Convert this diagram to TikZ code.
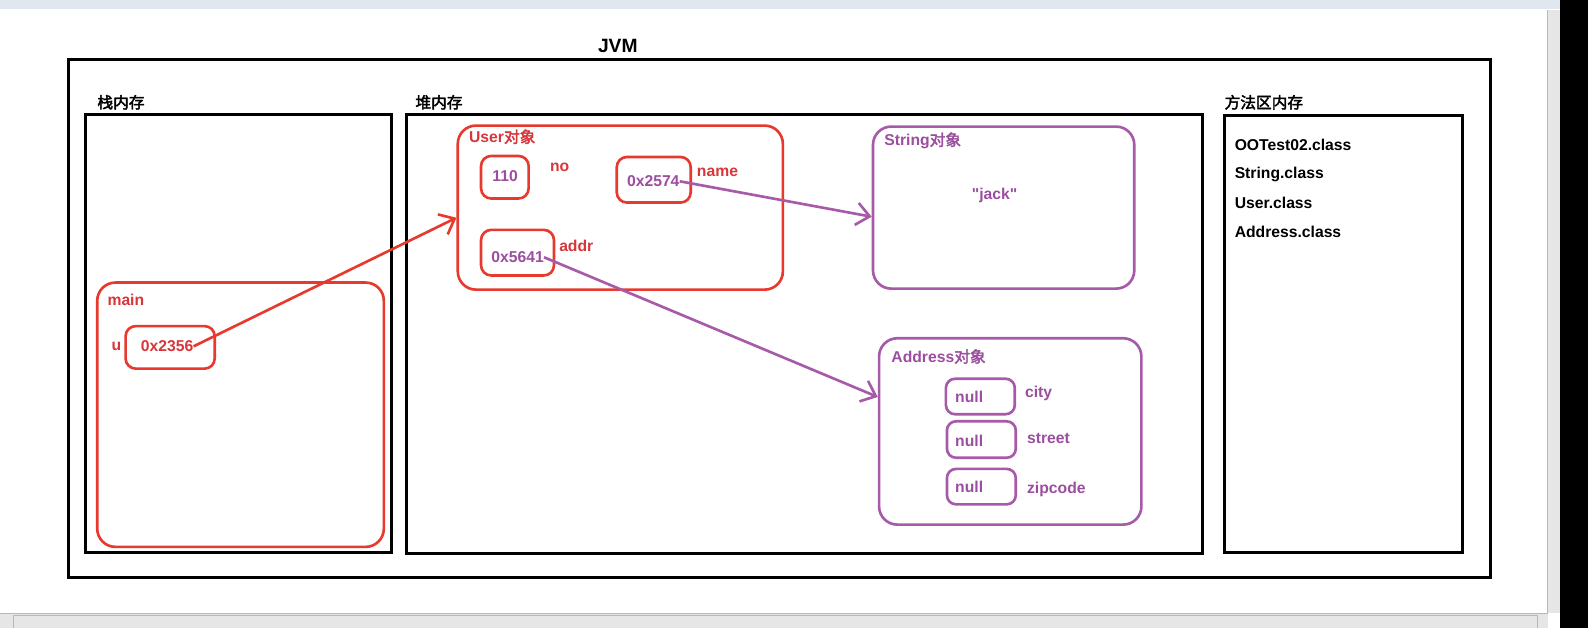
\documentclass[tikz,border=0pt]{standalone}
\usepackage{fontspec}
\setmainfont{Liberation Sans}
\newfontfamily\qfont{Liberation Sans}[Ligatures=TeXOff]
\newfontfamily\cjk{Noto Sans CJK SC}[AutoFakeBold=2.5]
\usetikzlibrary{arrows.meta}
\definecolor{rl}{HTML}{E8392F}
\definecolor{rt}{HTML}{D8363A}
\definecolor{pl}{HTML}{A65AA8}
\definecolor{pt}{HTML}{9B4E9F}
\definecolor{barbg}{HTML}{E6E6E6}
\definecolor{barln}{HTML}{B8B8B8}
\definecolor{topbg}{HTML}{E1E7EF}
\begin{document}
\begin{tikzpicture}[x=1pt,y=-1pt,
  font=\bfseries\fontsize{15.5}{18}\selectfont,
  blk/.style={draw=black,line width=3pt,inner sep=0pt},
  robj/.style={draw=rl,line width=2.6pt,rounded corners=18pt,inner sep=0pt},
  pobj/.style={draw=pl,line width=2.6pt,rounded corners=18pt,inner sep=0pt},
  rcell/.style={draw=rl,line width=2.6pt,rounded corners=10pt,inner sep=0pt},
  pcell/.style={draw=pl,line width=2.6pt,rounded corners=9pt,inner sep=0pt},
  lbl/.style={anchor=west,inner sep=0pt,text=black},
  rlbl/.style={anchor=west,inner sep=0pt,text=rt},
  plbl/.style={anchor=west,inner sep=0pt,text=pt},
  rarr/.style={draw=rl,line width=2.6pt,-{Straight Barb[length=13pt,width=22pt,line width=2.6pt]}},
  parr/.style={draw=pl,line width=2.6pt,-{Straight Barb[length=13pt,width=22pt,line width=2.6pt]}}
]
\useasboundingbox (0,0) rectangle (1568,620);
\fill[white] (0,0) rectangle (1568,620);
% window chrome
\fill[topbg] (0,0) rectangle (1540,9);
\fill[black] (1540,0) rectangle (1568,620);
\fill[barbg] (1528,10) rectangle (1540,605);
\draw[barln] (1528,10) -- (1528,605);
\fill[barbg] (0,605) rectangle (1528,620);
\draw[barln] (0,605) -- (1528,605);
\draw[barln] (13,607) rectangle (1518,620);

% containers
\node[blk,minimum width=1404pt,minimum height=511pt] (jvm) at (770,314.5) {};
\node[inner sep=0pt,font=\bfseries\fontsize{19}{22}\selectfont] (jvmt) at (610,45) {JVM};
\node[blk,minimum width=303pt,minimum height=433pt] (stack) at (235.5,329.5) {};
\node[lbl] (stackt) at (96,101) {\cjk 栈内存};
\node[blk,minimum width=786pt,minimum height=434pt] (heap) at (794,330) {};
\node[lbl] (heapt) at (410,101) {\cjk 堆内存};
\node[blk,minimum width=235pt,minimum height=432pt] (method) at (1326.5,330) {};
\node[lbl] (methodt) at (1209,101) {\cjk 方法区内存};
\node[lbl] (c1) at (1219,143) {OOTest02.class};
\node[lbl] (c2) at (1219,172) {String.class};
\node[lbl] (c3) at (1219,200) {User.class};
\node[lbl] (c4) at (1219,229) {Address.class};

% stack frame
\node[robj,minimum width=283pt,minimum height=261pt] (main) at (237.5,409.5) {};
\node[rlbl] (maint) at (106,296) {main};
\node[rlbl] (ut) at (110,342) {u};
\node[rcell,minimum width=88pt,minimum height=42pt] (ubox) at (168,343) {};
\node[rlbl] (uval) at (139,342) {0x2356};

% User object
\node[robj,minimum width=321pt,minimum height=162pt] (user) at (612.5,205) {};
\node[rlbl] (usert) at (463,135) {User{\cjk 对象}};
\node[rcell,minimum width=47pt,minimum height=42pt] (nobox) at (498.5,175) {};
\node[plbl] (noval) at (486,174) {110};
\node[rlbl] (not) at (543,165) {no};
\node[rcell,minimum width=73pt,minimum height=45pt] (namebox) at (645.5,177.5) {};
\node[plbl] (nameval) at (619,179) {0x2574};
\node[rlbl] (namet) at (688,170) {name};
\node[rcell,minimum width=72pt,minimum height=45pt] (addrbox) at (511,249.5) {};
\node[plbl] (addrval) at (485,254) {0x5641};
\node[rlbl] (addrt) at (552,243) {addr};

% String object
\node[pobj,minimum width=258pt,minimum height=160pt] (string) at (991,205) {};
\node[plbl] (stringt) at (873,139) {String{\cjk 对象}};
\node[inner sep=0pt,text=pt] (jack) at (982,193) {\qfont\bfseries "jack"};

% Address object
\node[pobj,minimum width=259pt,minimum height=184pt] (address) at (997.5,426) {};
\node[plbl] (addresst) at (880,352) {Address{\cjk 对象}};
\node[pcell,minimum width=68pt,minimum height=35pt] (n1) at (968,391.5) {};
\node[plbl] (n1t) at (943,392) {null};
\node[plbl] (cityt) at (1012,388) {city};
\node[pcell,minimum width=68pt,minimum height=36pt] (n2) at (969,434) {};
\node[plbl] (n2t) at (943,435) {null};
\node[plbl] (streett) at (1014,433) {street};
\node[pcell,minimum width=68pt,minimum height=35pt] (n3) at (969,480.5) {};
\node[plbl] (n3t) at (943,481) {null};
\node[plbl] (zipt) at (1014,483) {zipcode};

% references
\draw[rarr] (uval.east) -- ([yshift=-10pt]user.west);
\draw[parr] (nameval.east) -- ([yshift=-9pt]string.west);
\draw[parr] (addrval.east) -- ([yshift=34pt]address.west);
\end{tikzpicture}
\end{document}
